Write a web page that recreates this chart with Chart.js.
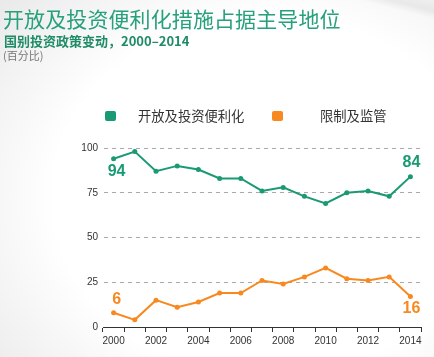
<!DOCTYPE html>
<html>
<head>
<meta charset="utf-8">
<script src="https://cdn.jsdelivr.net/npm/chart.js@4/dist/chart.umd.min.js"></script>
<style>
  html, body { margin: 0; padding: 0; }
  body {
    width: 434px; height: 357px; position: relative; overflow: hidden;
    background: radial-gradient(ellipse 360px 300px at 62% 55%, #ffffff 60%, #f3f3f3 82%, #e9e9e9 100%);
    font-family: "Noto Sans CJK SC", "Noto Sans", sans-serif;
  }
  #curl {
    position: absolute; left: 300px; top: -30px; width: 200px; height: 40px;
    background: linear-gradient(to bottom, rgba(0,0,0,0) 40%, rgba(0,0,0,0.06) 80%, rgba(0,0,0,0) 100%);
    transform: rotate(14deg);
  }
  #title { position: absolute; left: 3px; top: 4px; font-size: 21px; line-height: 28px; color: #27a07c; letter-spacing: 0.1px; white-space: nowrap; }
  #subtitle { position: absolute; left: 4px; top: 32px; font-size: 13px; line-height: 18px; font-weight: bold; color: #1f8c66; white-space: nowrap; }
  #unit { position: absolute; left: 3px; top: 48px; font-size: 11px; line-height: 15px; color: #777; white-space: nowrap; }
  #legend { position: absolute; left: 0; top: 106px; width: 434px; height: 20px; }
  .lg-box { position: absolute; top: 5px; width: 11px; height: 10px; border-radius: 2px; }
  .lg-text { position: absolute; top: 0; font-size: 13.3px; line-height: 20px; color: #333; white-space: nowrap; }
  #wrap { position: absolute; left: 0; top: 0; width: 434px; height: 357px; }
</style>
</head>
<body>
<div id="curl"></div>
<div id="wrap"><canvas id="c" width="434" height="357"></canvas></div>
<div id="title">开放及投资便利化措施占据主导地位</div>
<div id="subtitle">国别投资政策变动，2000–2014</div>
<div id="unit">(百分比)</div>
<div id="legend"></div>
<script>
const years = ["2000","2001","2002","2003","2004","2005","2006","2007","2008","2009","2010","2011","2012","2013","2014"];
const liberalization = [94, 98, 87, 90, 88, 83, 83, 76, 78, 73, 69, 75, 76, 73, 84];
const restriction = [8, 4, 15, 11, 14, 19, 19, 26, 24, 28, 33, 27, 26, 28, 17];
const seriesNames = ["开放及投资便利化", "限制及监管"];
const startLabels = ["94", "6"];
const endLabels = ["84", "16"];
const yTicks = [0, 25, 50, 75, 100];

const GREEN = "#1a9a74";
const ORANGE = "#f7891e";

const endLabelPlugin = {
  id: "endLabels",
  afterDatasetsDraw(chart) {
    const ctx = chart.ctx;
    ctx.save();
    ctx.font = 'bold 16px "Liberation Sans Narrow", "Liberation Sans", sans-serif';
    ctx.textAlign = "center";
    ctx.textBaseline = "middle";
    chart.data.datasets.forEach((ds, i) => {
      const meta = chart.getDatasetMeta(i);
      const first = meta.data[0];
      const last = meta.data[meta.data.length - 1];
      ctx.fillStyle = ds.borderColor;
      const dyFirst = i === 0 ? 13 : -13;
      const dyLast = i === 0 ? -14 : 12;
      ctx.fillText(startLabels[i], first.x + 3, first.y + dyFirst);
      ctx.fillText(endLabels[i], last.x + 1, last.y + dyLast);
    });
    ctx.restore();
  }
};

const tickFont = { family: '"Liberation Sans Narrow", "Liberation Sans", sans-serif', size: 10 };

const chart = new Chart(document.getElementById("c"), {
  type: "line",
  data: {
    labels: years,
    datasets: [
      { label: seriesNames[0], data: liberalization, borderColor: GREEN, backgroundColor: GREEN,
        borderWidth: 2, pointRadius: 2.5, pointBorderWidth: 0, pointHoverRadius: 3, tension: 0 },
      { label: seriesNames[1], data: restriction, borderColor: ORANGE, backgroundColor: ORANGE,
        borderWidth: 2, pointRadius: 2.5, pointBorderWidth: 0, pointHoverRadius: 3, tension: 0 }
    ]
  },
  options: {
    responsive: false,
    animation: false,
    devicePixelRatio: 1,
    layout: { autoPadding: false, padding: { top: 148, right: 13, bottom: 0, left: 0 } },
    plugins: { legend: { display: false }, tooltip: { enabled: false } },
    scales: {
      x: {
        type: "category",
        offset: true,
        afterFit(scale) { scale.height = 30; },
        grid: { offset: true, drawOnChartArea: false, drawTicks: true, tickLength: 5, color: "#333", lineWidth: 1 },
        border: { display: true, color: "#333", width: 1 },
        ticks: {
          autoSkip: false, maxRotation: 0, color: "#333", font: tickFont, padding: 3,
          callback(v, idx) { return idx % 2 === 0 ? years[idx] : ""; }
        }
      },
      y: {
        min: 0, max: 100,
        afterFit(scale) { scale.width = 103; },
        afterBuildTicks(scale) { scale.ticks = yTicks.map(v => ({ value: v })); },
        grid: { drawTicks: false, color: "#aaaaaa", lineWidth: 1 },
        border: { display: true, color: "rgba(0,0,0,0)", width: 1, dash: [4, 4] },
        ticks: { color: "#333", font: tickFont, padding: 5 }
      }
    }
  },
  plugins: [endLabelPlugin]
});

// HTML legend built from the chart's own datasets
const legendEl = document.getElementById("legend");
const boxX = [105, 272];
const textX = [138, 320];
chart.data.datasets.forEach((ds, i) => {
  const b = document.createElement("div");
  b.className = "lg-box"; b.style.left = boxX[i] + "px"; b.style.background = ds.backgroundColor;
  const t = document.createElement("div");
  t.className = "lg-text"; t.style.left = textX[i] + "px"; t.textContent = ds.label;
  legendEl.appendChild(b); legendEl.appendChild(t);
});
</script>
</body>
</html>
